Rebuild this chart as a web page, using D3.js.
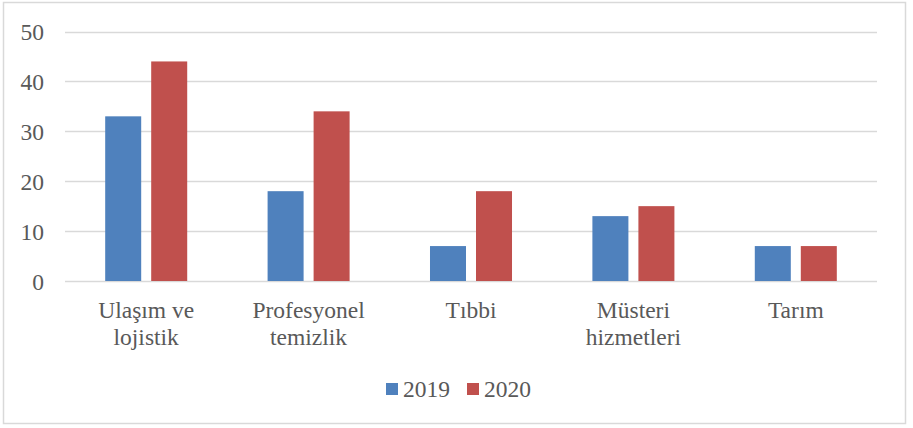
<!DOCTYPE html>
<html><head><meta charset="utf-8">
<script src="https://cdn.jsdelivr.net/npm/d3@7"></script>
<style>body{margin:0;background:#fff}svg{display:block}</style>
</head><body><svg id="c" width="913" height="428"></svg>
<script>
const categories = [["Ulaşım ve","lojistik"],["Profesyonel","temizlik"],["Tıbbi"],["Müsteri","hizmetleri"],["Tarım"]];
const seriesNames = ["2019","2020"];
const values2019 = [33,18,7,13,7];
const values2020 = [44,34,18,15,7];
const yTicks = [0,10,20,30,40,50];
const colors = ["#4F81BD","#C0504D"];
const FONT = "Liberation Serif";
const FS = "23.5px";
const TXT = "#595959";

const svg = d3.select("#c");
svg.append("rect").attr("x",3.5).attr("y",2.5).attr("width",902).attr("height",421).attr("fill","#fff").attr("stroke","#D9D9D9").attr("stroke-width",1.5);

const pLeft=65, pRight=877, pTop=31.5, pBottom=281;
const y = d3.scaleLinear().domain([0,50]).range([pBottom,pTop]);
const cats = categories.map((c,i)=>i);
const x0 = d3.scaleBand().domain(cats).range([pLeft,pRight]).paddingInner(0.495).paddingOuter(0.2475);
const x1 = d3.scaleBand().domain(seriesNames).range([0,x0.bandwidth()]).paddingInner(0.2174).paddingOuter(0);

// gridlines
svg.append("g").selectAll("line").data(yTicks).join("line")
  .attr("x1",pLeft).attr("x2",pRight).attr("y1",d=>Math.round(y(d))+0.5).attr("y2",d=>Math.round(y(d))+0.5)
  .attr("stroke","#D9D9D9").attr("stroke-width",1.5);

// y axis labels
const yAxis = d3.axisLeft(y).tickValues(yTicks).tickSize(0).tickPadding(0);
const ga = svg.append("g").attr("transform","translate(44,0)").call(yAxis);
ga.attr("font-family",FONT);
ga.select(".domain").remove();
ga.selectAll("text").style("font-size",FS).style("font-family",FONT).style("fill",TXT).attr("dy","0.35em");

const data = [values2019, values2020];
seriesNames.forEach((s,si)=>{
  svg.append("g").selectAll("rect").data(data[si]).join("rect")
    .attr("x",(d,i)=>x0(i)+x1(s)).attr("width",x1.bandwidth())
    .attr("y",d=>y(d)).attr("height",d=>y(0)-y(d)).attr("fill",colors[si]);
});

// category labels
const cl = svg.append("g");
categories.forEach((lines,i)=>{
  const cx = x0(i)+x0.bandwidth()/2;
  const t = cl.append("text").attr("text-anchor","middle")
    .style("font-size",FS).style("font-family",FONT).style("fill",TXT)
    .attr("x",cx).attr("y",318);
  lines.forEach((ln,j)=>t.append("tspan").attr("x",cx).attr("dy",j===0?0:27).text(ln));
});

// legend
const legendX = [386,467];
seriesNames.forEach((s,si)=>{
  svg.append("rect").attr("x",legendX[si]).attr("y",383).attr("width",12).attr("height",12).attr("fill",colors[si]);
  svg.append("text").attr("x",legendX[si]+17).attr("y",397)
    .style("font-size",FS).style("font-family",FONT).style("fill",TXT).text(s);
});
</script></body></html>
